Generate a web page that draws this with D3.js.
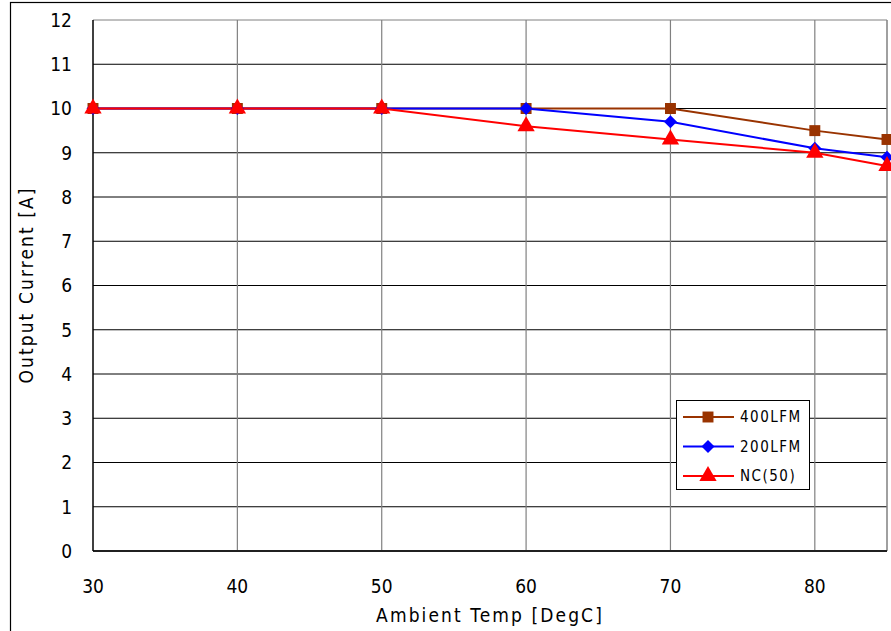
<!DOCTYPE html>
<html><head><meta charset="utf-8">
<script src="https://cdn.jsdelivr.net/npm/d3@7"></script>
<style>body{margin:0;background:#fff}svg{display:block}</style>
</head><body>
<svg id="c" width="891" height="631"></svg>
<script>
const temps = [30, 40, 50, 60, 70, 80, 85];
const s400 = [10, 10, 10, 10, 10, 9.5, 9.3];
const s200 = [10, 10, 10, 10, 9.7, 9.1, 8.9];
const sNC  = [10, 10, 10, 9.6, 9.3, 9.0, 8.7];
const seriesNames = ["400LFM", "200LFM", "NC(50)"];
const xTicks = [30, 40, 50, 60, 70, 80];
const yTicks = [0,1,2,3,4,5,6,7,8,9,10,11,12];

const series = [
  {name: seriesNames[0], vals: s400, color: "#993300", sym: d3.symbolSquare, size: 120, rot: 0},
  {name: seriesNames[1], vals: s200, color: "#0000ff", sym: d3.symbolSquare, size: 85, rot: 45},
  {name: seriesNames[2], vals: sNC,  color: "#ff0000", sym: d3.symbolTriangle, size: 130, rot: 0}
];

const svg = d3.select("#c");
const font = "'DejaVu Sans Condensed', 'Liberation Sans Narrow', 'Liberation Sans', sans-serif";
const L = 93, R = 887, T = 20, B = 551;
const x = d3.scaleLinear().domain([30, 85]).range([L, R]);
const y = d3.scaleLinear().domain([0, 12]).range([B, T]);

// outer border
svg.append("rect").attr("x", 10.5).attr("y", 2.5).attr("width", 900).attr("height", 700)
  .attr("fill", "none").attr("stroke", "#000").attr("stroke-width", 1.2);

// horizontal grid
svg.append("g").selectAll("line").data(yTicks).join("line")
  .attr("x1", L).attr("x2", R).attr("y1", d => y(d)).attr("y2", d => y(d))
  .attr("stroke", d => d === 12 ? "#808080" : "#000").attr("stroke-width", 1);
// vertical grid
svg.append("g").selectAll("line").data(xTicks.slice(1)).join("line")
  .attr("x1", d => x(d)).attr("x2", d => x(d)).attr("y1", T).attr("y2", B)
  .attr("stroke", "#808080").attr("stroke-width", 1.2);
// plot border
svg.append("line").attr("x1", R).attr("x2", R).attr("y1", T).attr("y2", B).attr("stroke", "#808080").attr("stroke-width", 1.5);
svg.append("line").attr("x1", L).attr("x2", L).attr("y1", T).attr("y2", B).attr("stroke", "#000").attr("stroke-width", 1.5);
svg.append("line").attr("x1", L).attr("x2", R).attr("y1", B).attr("y2", B).attr("stroke", "#000").attr("stroke-width", 1.5);

// y ticks
svg.append("g").selectAll("text").data(yTicks).join("text")
  .attr("x", 72).attr("y", d => y(d)).attr("dy", "0.36em").attr("text-anchor", "end")
  .attr("font-family", font).attr("font-size", 19).text(d => d);
// x ticks
svg.append("g").selectAll("text").data(xTicks).join("text")
  .attr("x", d => x(d)).attr("y", 593).attr("text-anchor", "middle")
  .attr("font-family", font).attr("font-size", 19).text(d => d);

// axis titles
svg.append("text").attr("x", 490).attr("y", 622).attr("text-anchor", "middle")
  .attr("font-family", font).attr("font-size", 19).attr("letter-spacing", 2.1).text("Ambient Temp [DegC]");
svg.append("text").attr("transform", "translate(33,285) rotate(-90)").attr("text-anchor", "middle")
  .attr("font-family", font).attr("font-size", 19).attr("letter-spacing", 2.1).text("Output Current [A]");

// series
const line = d3.line().x((d, i) => x(temps[i])).y(d => y(d));
series.forEach(s => {
  svg.append("path").datum(s.vals).attr("d", line).attr("fill", "none")
    .attr("stroke", s.color).attr("stroke-width", 2);
});
series.forEach(s => {
  svg.append("g").selectAll("path").data(s.vals).join("path")
    .attr("transform", (d, i) => `translate(${x(temps[i])},${y(d)}) rotate(${s.rot})`)
    .attr("d", d3.symbol(s.sym, s.size)).attr("fill", s.color);
});

// legend
const lg = svg.append("g");
lg.append("rect").attr("x", 676.5).attr("y", 400.5).attr("width", 133).attr("height", 89)
  .attr("fill", "#fff").attr("stroke", "#000").attr("stroke-width", 1);
series.forEach((s, i) => {
  const yy = 417 + i * 29.5;
  lg.append("line").attr("x1", 683).attr("x2", 734).attr("y1", yy).attr("y2", yy)
    .attr("stroke", s.color).attr("stroke-width", 2);
  lg.append("path").attr("transform", `translate(708,${yy}) rotate(${s.rot})`)
    .attr("d", d3.symbol(s.sym, s.size)).attr("fill", s.color);
  lg.append("text").attr("x", 740).attr("y", yy).attr("dy", "0.36em")
    .attr("font-family", font).attr("font-size", 15).attr("letter-spacing", 1.5).text(s.name);
});
</script>
</body></html>
